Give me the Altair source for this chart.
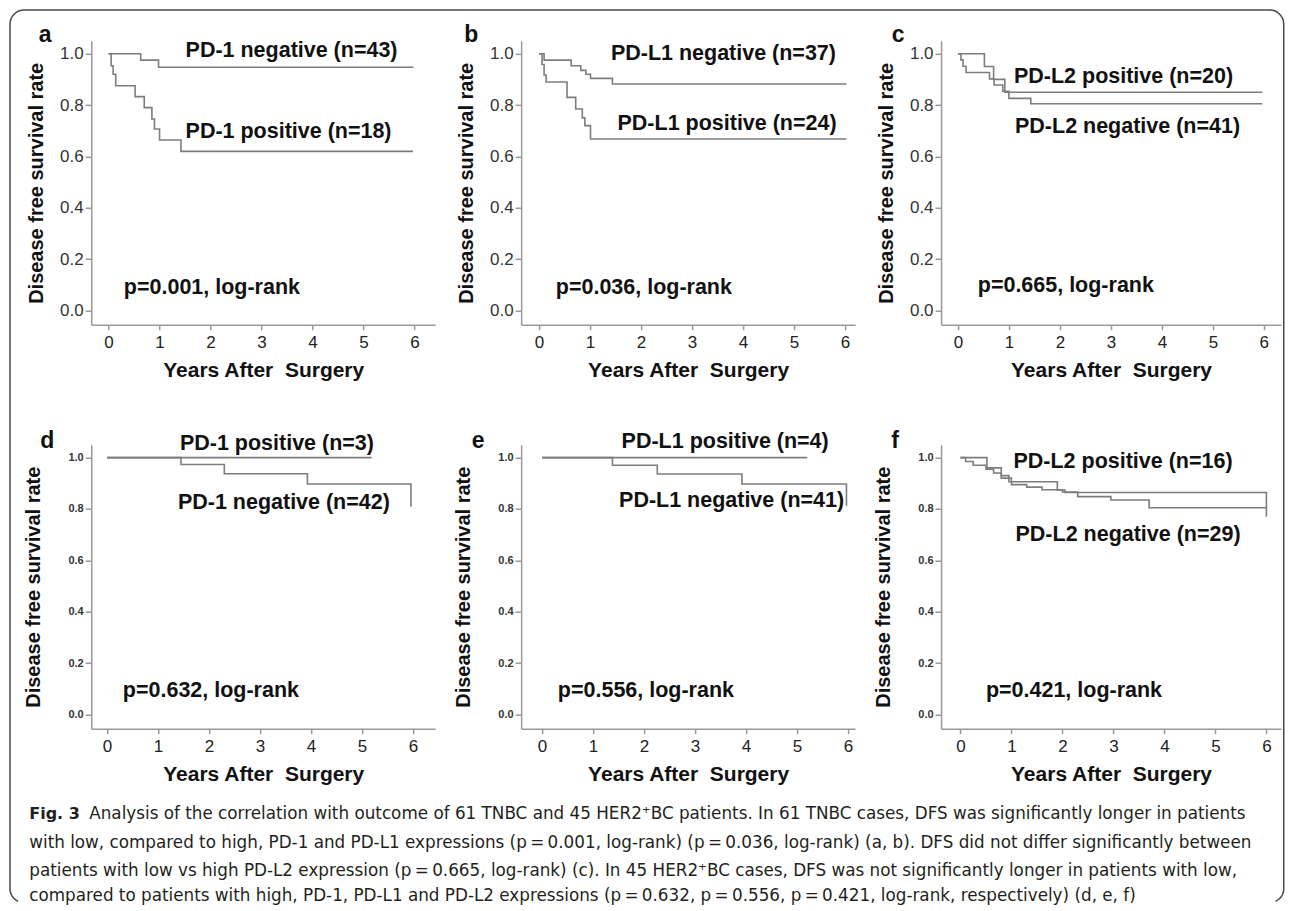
import altair as alt
import pandas as pd

FONT = "Liberation Sans"
LINE_COLOR = "#7d7d7d"
AXIS_COLOR = "#9a9a9a"
TEXT_COLOR = "#111111"

# ---------------- data ----------------
# Panel a: TNBC, PD-1
a_neg_t = [0.0, 0.63, 0.98, 5.98]
a_neg_s = [1.0, 0.975, 0.947, 0.947]
a_pos_t = [0.0, 0.05, 0.09, 0.14, 0.52, 0.70, 0.85, 0.90, 1.00, 1.42, 5.97]
a_pos_s = [1.0, 0.953, 0.92, 0.875, 0.833, 0.79, 0.746, 0.707, 0.664, 0.62, 0.62]

# Panel b: TNBC, PD-L1
b_neg_t = [0.0, 0.10, 0.63, 0.82, 0.92, 1.01, 1.44, 6.03]
b_neg_s = [1.0, 0.975, 0.953, 0.935, 0.92, 0.904, 0.882, 0.882]
b_pos_t = [0.0, 0.06, 0.10, 0.14, 0.55, 0.72, 0.85, 0.90, 1.01, 6.03]
b_pos_s = [1.0, 0.958, 0.917, 0.89, 0.83, 0.785, 0.75, 0.72, 0.668, 0.668]

# Panel c: TNBC, PD-L2
c_pos_t = [0.0, 0.52, 0.70, 0.92, 5.97]
c_pos_s = [1.0, 0.95, 0.90, 0.85, 0.85]
c_neg_t = [0.0, 0.06, 0.10, 0.16, 0.62, 0.71, 0.88, 1.00, 1.43, 5.97]
c_neg_s = [1.0, 0.976, 0.951, 0.927, 0.902, 0.878, 0.854, 0.826, 0.805, 0.805]

# Panel d: HER2+, PD-1
d_pos_t = [0.0, 5.19]
d_pos_s = [1.0, 1.0]
d_neg_t = [0.0, 1.45, 2.30, 3.93, 5.96]
d_neg_s = [1.0, 0.973, 0.937, 0.897, 0.809]

# Panel e: HER2+, PD-L1
e_pos_t = [0.0, 5.20]
e_pos_s = [1.0, 1.0]
e_neg_t = [0.0, 1.38, 2.26, 3.92, 5.97]
e_neg_s = [1.0, 0.97, 0.936, 0.897, 0.813]

# Panel f: HER2+, PD-L2
f_pos_t = [0.0, 0.52, 0.80, 0.95, 1.90, 2.05, 6.0]
f_pos_s = [1.0, 0.96, 0.93, 0.906, 0.874, 0.864, 0.77]
f_neg_t = [0.0, 0.10, 0.25, 0.50, 0.65, 0.80, 1.00, 1.30, 1.60, 2.00, 2.30, 2.95, 3.70, 6.0]
f_neg_s = [1.0, 0.985, 0.97, 0.955, 0.94, 0.92, 0.895, 0.885, 0.875, 0.866, 0.848, 0.835, 0.805, 0.805]

# annotation texts and their anchor (years, survival)
a_lab = ["PD-1 negative (n=43)", "PD-1 positive (n=18)", "p=0.001, log-rank"]
a_lab_t = [1.51, 1.51, 0.30]
a_lab_s = [1.01, 0.694, 0.09]
b_lab = ["PD-L1 negative (n=37)", "PD-L1 positive (n=24)", "p=0.036, log-rank"]
b_lab_t = [1.41, 1.54, 0.33]
b_lab_s = [1.0, 0.726, 0.09]
c_lab = ["PD-L2 positive (n=20)", "PD-L2 negative (n=41)", "p=0.665, log-rank"]
c_lab_t = [1.10, 1.12, 0.39]
c_lab_s = [0.908, 0.713, 0.097]
d_lab = ["PD-1 positive (n=3)", "PD-1 negative (n=42)", "p=0.632, log-rank"]
d_lab_t = [1.43, 1.39, 0.31]
d_lab_s = [1.053, 0.825, 0.09]
e_lab = ["PD-L1 positive (n=4)", "PD-L1 negative (n=41)", "p=0.556, log-rank"]
e_lab_t = [1.56, 1.51, 0.31]
e_lab_s = [1.06, 0.83, 0.092]
f_lab = ["PD-L2 positive (n=16)", "PD-L2 negative (n=29)", "p=0.421, log-rank"]
f_lab_t = [1.04, 1.08, 0.50]
f_lab_s = [0.983, 0.70, 0.09]

x_ticks = [0, 1, 2, 3, 4, 5, 6]
y_ticks = [0.0, 0.2, 0.4, 0.6, 0.8, 1.0]

caption_bold = "Fig. 3"
caption_lines = [
    "Analysis of the correlation with outcome of 61 TNBC and 45 HER2\u207aBC patients. In 61 TNBC cases, DFS was significantly longer in patients",
    "with low, compared to high, PD-1 and PD-L1 expressions (p\u2009=\u20090.001, log-rank) (p\u2009=\u20090.036, log-rank) (a, b). DFS did not differ significantly between",
    "patients with low vs high PD-L2 expression (p\u2009=\u20090.665, log-rank) (c). In 45 HER2\u207aBC cases, DFS was not significantly longer in patients with low,",
    "compared to patients with high, PD-1, PD-L1 and PD-L2 expressions (p\u2009=\u20090.632, p\u2009=\u20090.556, p\u2009=\u20090.421, log-rank, respectively) (d, e, f)",
]

# ---------------- layout ----------------
PPY = 51.0       # pixels per year
PLOT_H = 284
Y_DOM = [-0.055, 1.05]
COL_W = [344, 334, 340]


def make_panel(curves, labels, lab_t, lab_s, letter, letter_xy, xmin, width, small,
               extra=None):
    rows = []
    for g, (tl, sl) in enumerate(curves):
        for i, (t, s) in enumerate(zip(tl, sl)):
            rows.append({"t": t, "s": s, "g": g, "i": i})
    df = pd.DataFrame(rows)
    xscale = alt.Scale(domain=[xmin, xmin + width / PPY], nice=False, zero=False)
    yscale = alt.Scale(domain=Y_DOM, nice=False, zero=False)
    xaxis = alt.Axis(
        values=x_ticks, format="d", grid=False,
        title="Years After\u00a0 Surgery", titleFont=FONT, titleFontSize=21,
        titleFontWeight="bold", titleColor=TEXT_COLOR, titlePadding=9,
        labelFont=FONT, labelFontSize=17, labelColor="#222222", labelPadding=5,
        tickSize=5, tickColor=AXIS_COLOR, tickWidth=1.5,
        domainColor=AXIS_COLOR, domainWidth=1.5, labelFlush=False,
    )
    yaxis = alt.Axis(
        values=y_ticks, format=".1f", grid=False,
        title="Disease free survival rate", titleFont=FONT, titleFontSize=20,
        titleFontWeight="bold", titleColor=TEXT_COLOR,
        titlePadding=24 if small else 13,
        labelFont=FONT, labelFontSize=11 if small else 17,
        labelFontWeight="bold" if small else "normal",
        labelColor="#333333", labelPadding=2,
        tickSize=6, tickColor=AXIS_COLOR, tickWidth=1.5,
        domainColor=AXIS_COLOR, domainWidth=1.5, labelFlush=False,
    )
    lines = alt.Chart(df).mark_line(
        interpolate="step-after", color=LINE_COLOR, strokeWidth=1.6
    ).encode(
        x=alt.X("t:Q", scale=xscale, axis=xaxis),
        y=alt.Y("s:Q", scale=yscale, axis=yaxis),
        detail="g:N",
        order="i:Q",
    )
    ldf = pd.DataFrame({"t": lab_t, "s": lab_s, "txt": labels})
    texts = alt.Chart(ldf).mark_text(
        align="left", baseline="middle", font=FONT, fontSize=21.5,
        fontWeight="bold", color=TEXT_COLOR
    ).encode(
        x=alt.X("t:Q", scale=xscale, axis=xaxis),
        y=alt.Y("s:Q", scale=yscale, axis=yaxis),
        text="txt:N",
    )
    let = alt.Chart(pd.DataFrame({"txt": [letter]})).mark_text(
        align="center", baseline="alphabetic", font=FONT, fontSize=23,
        fontWeight="bold", color=TEXT_COLOR
    ).encode(x=alt.value(letter_xy[0]), y=alt.value(letter_xy[1]), text="txt:N")
    layers = [lines, texts, let] + (extra or [])
    return alt.layer(*layers).properties(width=width, height=PLOT_H)


# caption + outer rounded frame (drawn in panel d, positioned relative to its plot)
one = pd.DataFrame({"k": [0]})
FR_X1, FR_X2, FR_Y1, FR_Y2 = -81.25, 1192.75, -434.75, 458.0
frame = alt.Chart(one).mark_rect(
    fillOpacity=0, stroke="#4a4a4a", strokeWidth=1.5, cornerRadius=14
).encode(x=alt.value(FR_X1), x2=alt.value(FR_X2), y=alt.value(FR_Y1), y2=alt.value(FR_Y2))
# the frame continues below the visible page: hide its bottom edge
frame_cut = alt.Chart(one).mark_rule(color="white", strokeWidth=4).encode(
    x=alt.value(FR_X1 + 8), x2=alt.value(FR_X2 - 8), y=alt.value(FR_Y2)
)

CAP_FONT = "DejaVu Sans"
CAP_SIZE = 16.8
CAP_COLOR = "#231f20"
cap_layers = [frame, frame_cut]
cap_layers.append(
    alt.Chart(pd.DataFrame({"txt": [caption_bold]})).mark_text(
        align="left", baseline="middle", font=CAP_FONT, fontSize=16,
        fontWeight="bold", color=CAP_COLOR
    ).encode(x=alt.value(-62), y=alt.value(369.5), text="txt:N")
)
cap_y = [369.5, 398.5, 426.0, 451.5]
cap_x = [-2, -62, -62, -62]
for line, yy, xx in zip(caption_lines, cap_y, cap_x):
    cap_layers.append(
        alt.Chart(pd.DataFrame({"txt": [line]})).mark_text(
            align="left", baseline="middle", font=CAP_FONT, fontSize=CAP_SIZE,
            color=CAP_COLOR
        ).encode(x=alt.value(xx), y=alt.value(yy), text="txt:N")
    )

pa = make_panel([(a_neg_t, a_neg_s), (a_pos_t, a_pos_s)], a_lab, a_lab_t, a_lab_s,
                "a", (-46, 1), -0.34, COL_W[0], False)
pb = make_panel([(b_neg_t, b_neg_s), (b_pos_t, b_pos_s)], b_lab, b_lab_t, b_lab_s,
                "b", (-50, 1), -0.35, COL_W[1], False)
pc = make_panel([(c_pos_t, c_pos_s), (c_neg_t, c_neg_s)], c_lab, c_lab_t, c_lab_s,
                "c", (-43, 1), -0.33, COL_W[2], False)
pd_ = make_panel([(d_pos_t, d_pos_s), (d_neg_t, d_neg_s)], d_lab, d_lab_t, d_lab_s,
                 "d", (-44, 3), -0.31, COL_W[0], True, extra=cap_layers)
pe = make_panel([(e_pos_t, e_pos_s), (e_neg_t, e_neg_s)], e_lab, e_lab_t, e_lab_s,
                "e", (-43, 3), -0.41, COL_W[1], True)
pf = make_panel([(f_pos_t, f_pos_s), (f_neg_t, f_neg_s)], f_lab, f_lab_t, f_lab_s,
                "f", (-46, 3), -0.38, COL_W[2], True)

chart = alt.concat(
    pa, pb, pc, pd_, pe, pf, columns=3,
    spacing={"row": 120, "column": 86}, bounds="flush",
).properties(
    padding={"left": 1.25, "top": 0.75, "right": 0, "bottom": 0},
    background="white",
).configure_view(stroke=None)

chart.save("out.html", embed_options={"renderer": "svg", "actions": False})
